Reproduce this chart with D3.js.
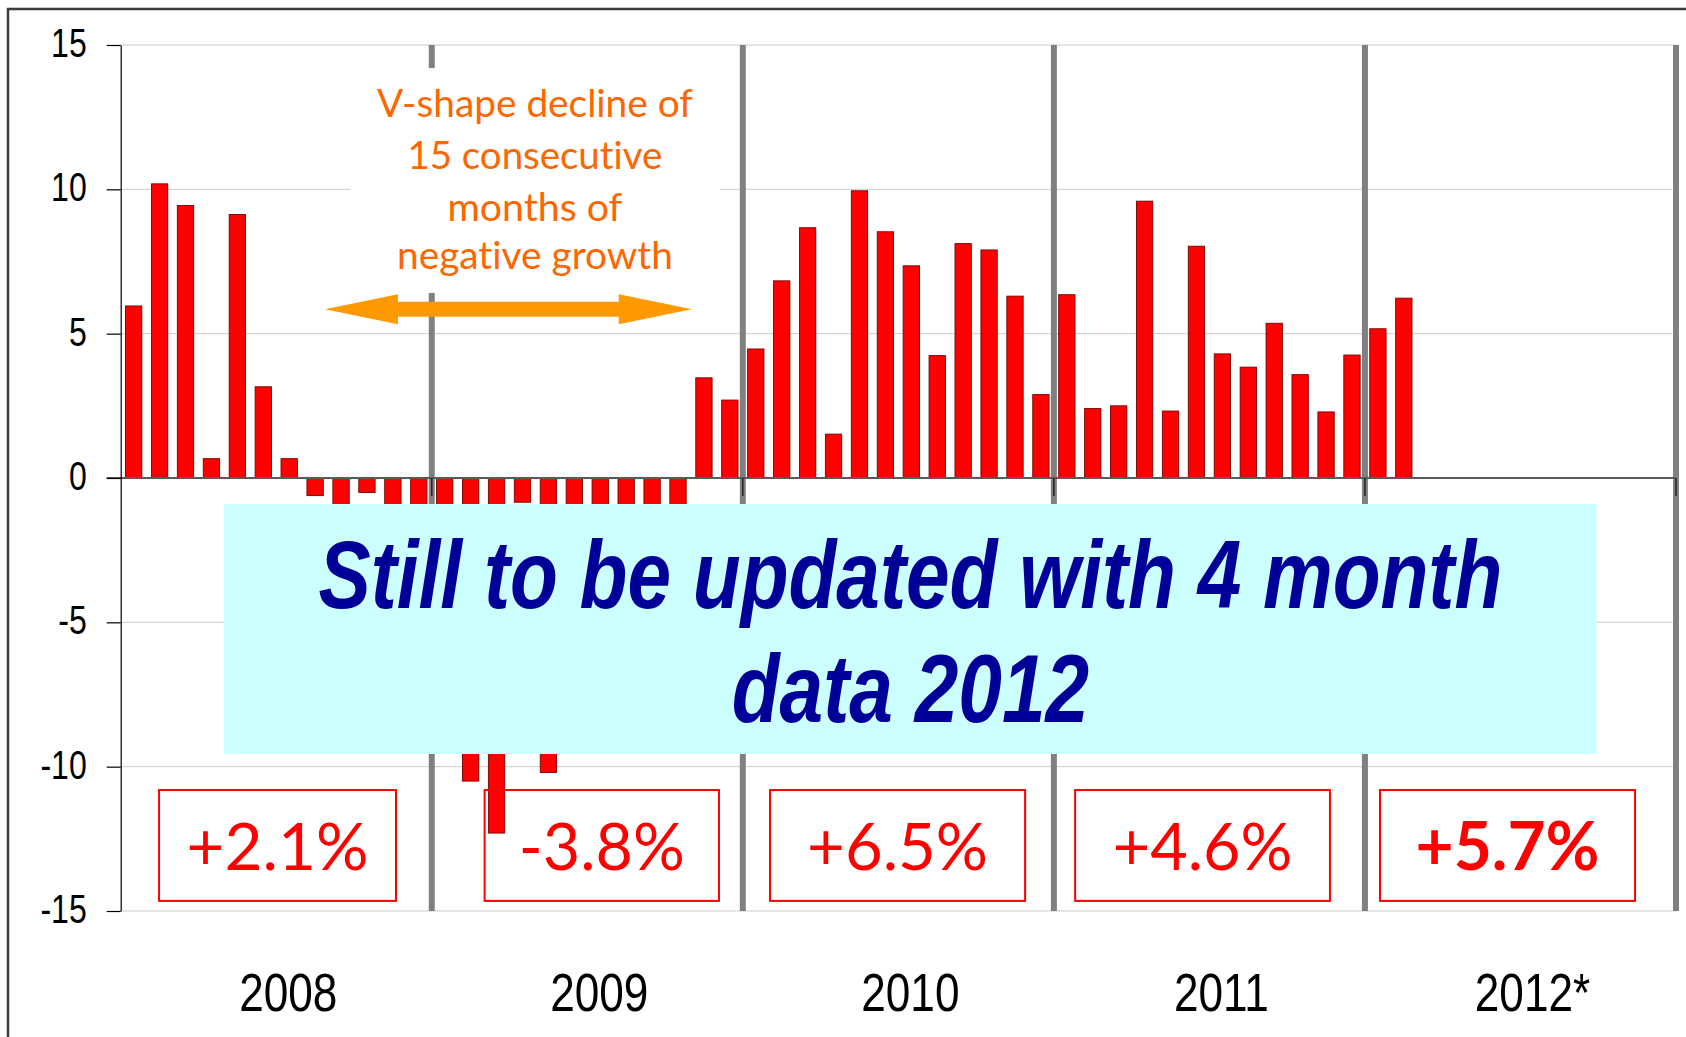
<!DOCTYPE html>
<html><head><meta charset="utf-8">
<script src="https://cdn.jsdelivr.net/npm/d3@7"></script>
<style>html,body{margin:0;padding:0;background:#fff;overflow:hidden} text{font-variant-ligatures:none;font-feature-settings:"liga" 0,"clig" 0}</style>
</head><body>
<svg id="chart" width="1686" height="1037"></svg>
<script>
// ---------------- DATA ----------------
const years = ["2008", "2009", "2010", "2011", "2012*"];
const monthNames = ["Jan","Feb","Mar","Apr","May","Jun","Jul","Aug","Sep","Oct","Nov","Dec"];
// monthly growth (%); months hidden behind the banner are estimates
const values2008 = [5.96, 10.19, 9.44, 0.67, 9.13, 3.16, 0.67, -0.61, -2.5, -0.50, -4.4, -6.0];
const values2009 = [-5.0, -10.5, -12.3, -0.84, -10.2, -3.5, -3.0, -2.5, -2.2, -1.7, 3.47, 2.70];
const values2010 = [4.47, 6.83, 8.67, 1.52, 9.95, 8.53, 7.35, 4.24, 8.12, 7.90, 6.30, 2.89];
const values2011 = [6.35, 2.41, 2.50, 9.59, 2.32, 8.03, 4.30, 3.84, 5.36, 3.58, 2.29, 4.26];
const values2012 = [5.17, 6.23, null, null, null, null, null, null, null, null, null, null];
const annualGrowth = ["+2.1%", "-3.8%", "+6.5%", "+4.6%", "+5.7%"];
const yTicks = [-15, -10, -5, 0, 5, 10, 15];
const noteLines = ["V-shape decline of", "15 consecutive", "months of", "negative growth"];
const bannerLines = ["Still to be updated with 4 month", "data 2012"];

// ---------------- LAYOUT ----------------
const plot = {left: 120.7, right: 1676, top: 45, bottom: 911};
// annotation placement in data units (month index on x, value on y)
const annualBoxes = [
  {x0: 1.48, x1: 10.62, w: 182, bold: false},
  {x0: 14.04, x1: 23.08, w: 166, bold: false},
  {x0: 25.05, x1: 34.89, w: 181, bold: false},
  {x0: 36.82, x1: 46.65, w: 179.5, bold: false},
  {x0: 48.58, x1: 58.42, w: 184, bold: true}
];
const annualBoxY = {top: -10.81, bottom: -14.65, baseline: -13.58};
const banner = {x0: 3.99, x1: 56.94, top: -0.90, bottom: -9.56, baselines: [-4.49, -8.47], widths: [1184, 357.5]};
const note = {x0: 8.88, x1: 23.12, top: 14.2, bottom: 6.41, cx: 15.98, baselines: [12.49, 10.70, 8.91, 7.24], widths: [316, 255, 175, 276]};
const arrow = {x0: 7.88, x1: 22.03, yv: 5.85};

// ---------------- SCALES ----------------
const categories = years.flatMap(y => monthNames.map(m => m + " " + y));
const series = [].concat(values2008, values2009, values2010, values2011, values2012);
const data = categories.map((c, i) => ({c, v: series[i]}));

const svg = d3.select("#chart");
const x = d3.scaleBand().domain(categories).range([plot.left, plot.right]).paddingInner(0.37).paddingOuter(0.185);
const xm = d3.scaleLinear().domain([0, categories.length]).range([plot.left, plot.right]);
const xy = d3.scaleBand().domain(years).range([plot.left, plot.right]);
const y = d3.scaleLinear().domain([-15, 15]).range([plot.bottom, plot.top]);

function fitText(sel, targetW) {
  sel.each(function () {
    const w = this.getComputedTextLength();
    const s = targetW / w;
    const cx = +this.getAttribute("x");
    this.setAttribute("transform", `translate(${cx * (1 - s)},0) scale(${s},1)`);
  });
}

// outer frame
svg.append("rect").attr("x", 8).attr("y", 9).attr("width", 1720).attr("height", 1100)
  .attr("fill", "none").attr("stroke", "#3c3c3c").attr("stroke-width", 2.5);

// gridlines
svg.append("g").selectAll("line").data(yTicks.filter(t => t !== 0)).join("line")
  .attr("x1", plot.left).attr("x2", plot.right)
  .attr("y1", d => y(d)).attr("y2", d => y(d))
  .attr("stroke", "#999").attr("stroke-width", 1).attr("stroke-dasharray", "1 1");

// year dividers
svg.append("g").selectAll("line").data(years).join("line")
  .attr("x1", d => xy(d) + xy.bandwidth()).attr("x2", d => xy(d) + xy.bandwidth())
  .attr("y1", y(15)).attr("y2", y(-15))
  .attr("stroke", "#808080").attr("stroke-width", 6);

// bars
svg.append("g").selectAll("rect").data(data.filter(d => d.v !== null)).join("rect")
  .attr("x", d => x(d.c)).attr("width", x.bandwidth())
  .attr("y", d => y(Math.max(0, d.v)))
  .attr("height", d => Math.abs(y(d.v) - y(0)))
  .attr("fill", "#ff0000").attr("stroke", "#7a0000").attr("stroke-width", 0.9);

// zero line
svg.append("line").attr("x1", plot.left - 14).attr("x2", plot.right)
  .attr("y1", y(0)).attr("y2", y(0)).attr("stroke", "#5a5a5a").attr("stroke-width", 2);
// year ticks below zero line
svg.append("g").selectAll("line").data(years).join("line")
  .attr("x1", d => xy(d) + xy.bandwidth()).attr("x2", d => xy(d) + xy.bandwidth())
  .attr("y1", y(0)).attr("y2", y(0) + 18)
  .attr("stroke", "#222").attr("stroke-width", 1.5);

// y axis
const yAxis = svg.append("g").attr("transform", `translate(${plot.left},0)`)
  .call(d3.axisLeft(y).tickValues(yTicks).tickSize(14).tickSizeOuter(0).tickFormat(d => String(d)));
yAxis.select(".domain").attr("stroke", "#000").attr("stroke-width", 1.2);
yAxis.selectAll(".tick line").attr("stroke", "#000").attr("stroke-width", 1.2);
yAxis.selectAll(".tick text")
  .attr("font-family", "'Liberation Sans', Arial, sans-serif").attr("font-size", 40)
  .attr("fill", "#000").attr("x", -34 / 0.8).attr("dy", "0.29em")
  .attr("transform", "scale(0.8,1)");

// x axis (years)
const xAxis = svg.append("g").attr("transform", `translate(0,${plot.bottom})`)
  .call(d3.axisBottom(xy).tickSize(0).tickPadding(61));
xAxis.select(".domain").remove();
xAxis.selectAll(".tick text")
  .attr("font-family", "'Liberation Sans', Arial, sans-serif").attr("font-size", 54.5)
  .attr("fill", "#000").attr("x", 12 / 0.81).attr("transform", "scale(0.81,1)");

// white note box with orange text
svg.append("rect").attr("x", xm(note.x0)).attr("y", y(note.top))
  .attr("width", xm(note.x1) - xm(note.x0)).attr("height", y(note.bottom) - y(note.top))
  .attr("fill", "#fff");
const noteG = svg.append("g");
noteLines.forEach((t, i) => {
  const tx = noteG.append("text").attr("x", xm(note.cx)).attr("y", y(note.baselines[i]))
    .attr("text-anchor", "middle").attr("font-family", "Lato, 'Open Sans', sans-serif")
    .attr("font-size", 38).attr("fill", "#ff6600").text(t);
  fitText(tx, note.widths[i]);
});

// double-headed arrow
{
  const L = xm(arrow.x0), R = xm(arrow.x1), cy = y(arrow.yv), h = 73, hh = 15, sh = 7.5;
  const p = d3.path();
  p.moveTo(L, cy); p.lineTo(L + h, cy - hh); p.lineTo(L + h, cy - sh); p.lineTo(R - h, cy - sh);
  p.lineTo(R - h, cy - hh); p.lineTo(R, cy); p.lineTo(R - h, cy + hh); p.lineTo(R - h, cy + sh);
  p.lineTo(L + h, cy + sh); p.lineTo(L + h, cy + hh); p.closePath();
  svg.append("path").attr("d", p.toString()).attr("fill", "#ff9900");
}

// cyan banner
svg.append("rect").attr("x", xm(banner.x0)).attr("y", y(banner.top))
  .attr("width", xm(banner.x1) - xm(banner.x0)).attr("height", y(banner.bottom) - y(banner.top))
  .attr("fill", "#ccffff");
bannerLines.forEach((t, i) => {
  const tx = svg.append("text").attr("x", xm((banner.x0 + banner.x1) / 2)).attr("y", y(banner.baselines[i]))
    .attr("text-anchor", "middle").attr("font-family", "'Liberation Sans', Arial, sans-serif")
    .attr("font-size", 96).attr("font-weight", "bold").attr("font-style", "italic")
    .attr("fill", "#000099").text(t);
  fitText(tx, banner.widths[i]);
});

// annual growth boxes
annualBoxes.forEach((b, i) => {
  svg.append("rect").attr("x", xm(b.x0)).attr("y", y(annualBoxY.top))
    .attr("width", xm(b.x1) - xm(b.x0)).attr("height", y(annualBoxY.bottom) - y(annualBoxY.top))
    .attr("fill", "none").attr("stroke", "#ff0000").attr("stroke-width", 2);
  const tx = svg.append("text").attr("x", xm((b.x0 + b.x1) / 2)).attr("y", y(annualBoxY.baseline))
    .attr("text-anchor", "middle").attr("font-family", "Lato, 'Open Sans', sans-serif")
    .attr("font-size", b.bold ? 67.4 : 66.4).attr("font-weight", b.bold ? "bold" : "normal")
    .attr("fill", "#ff0000").text(annualGrowth[i]);
  fitText(tx, b.w);
});
</script>
</body></html>
